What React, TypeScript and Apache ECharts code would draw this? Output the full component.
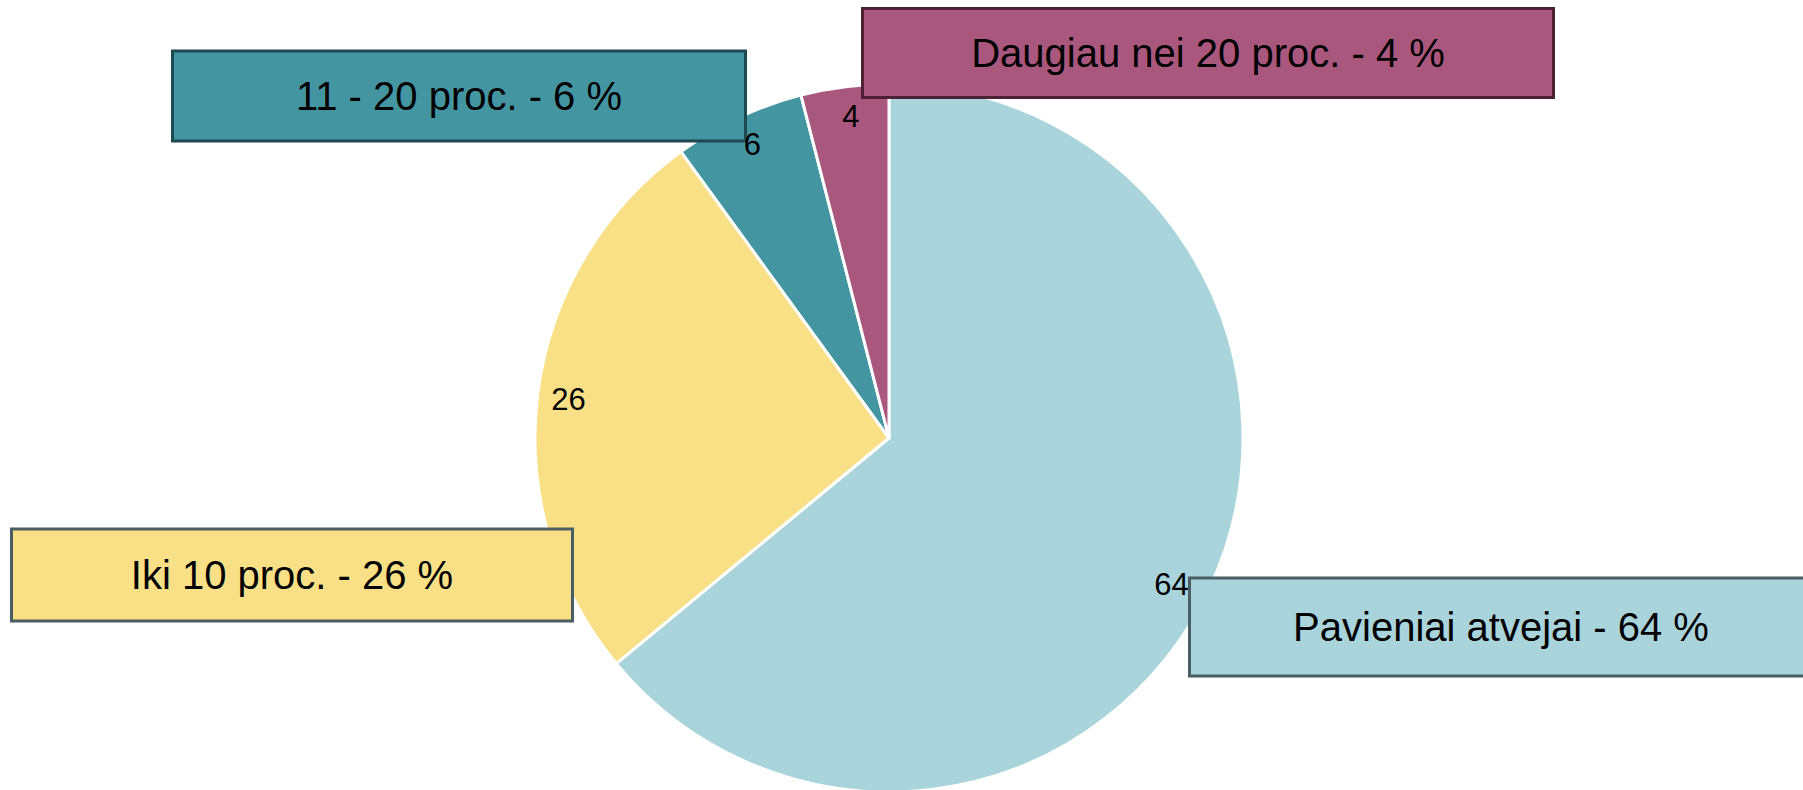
import React, { useEffect, useRef } from "react";
import * as echarts from "echarts";

const categories = ["Pavieniai atvejai", "Iki 10 proc.", "11 - 20 proc.", "Daugiau nei 20 proc."];
const values = [64, 26, 6, 4];
const sliceColors = ["#AAD4DB", "#F9E087", "#4495A2", "#AA577E"];
const boxBorderColors = ["#4A5E63", "#4A5E63", "#1E4A52", "#4E2036"];
// callout box layout: centre x, centre y, width, height (pixels)
const boxLayout = [
  [1501, 627, 620, 95],
  [292, 575, 558, 89],
  [459, 96, 570, 87],
  [1208, 53, 688, 86],
];
// small tweak of the in-slice value label positions
const valueLabelOffsets = [
  [-8, 10],
  [-2, 2],
  [0, -3],
  [2, -3],
];

export default function App() {
  const ref = useRef<HTMLDivElement>(null);
  useEffect(() => {
    const chart = echarts.init(ref.current!, null, { renderer: "svg" });
    const center = [889, 438];
    const radius = 354;
    chart.setOption({
      animation: false,
      backgroundColor: "#ffffff",
      series: [
        {
          type: "pie",
          center,
          radius: [0, radius],
          startAngle: 90,
          clockwise: true,
          avoidLabelOverlap: false,
          silent: true,
          itemStyle: { borderColor: "#ffffff", borderWidth: 3 },
          labelLine: { show: false },
          label: {
            show: true,
            position: "outside",
            formatter: "{b} - {c} %",
            fontFamily: "'Liberation Sans', Arial, sans-serif",
            fontSize: 40,
            color: "#000000",
          },
          labelLayout: (params: any) => {
            const b = boxLayout[params.dataIndex];
            return { x: b[0], y: b[1], align: "center", verticalAlign: "middle" };
          },
          data: categories.map((name, i) => ({
            name,
            value: values[i],
            itemStyle: { color: sliceColors[i] },
            label: {
              backgroundColor: sliceColors[i],
              borderColor: boxBorderColors[i],
              borderWidth: 3,
              width: boxLayout[i][2],
              lineHeight: boxLayout[i][3] - 24,
              padding: [0, 0, 24, 0],
              align: "center",
            },
          })),
        },
        {
          type: "pie",
          center,
          radius: [294, 342],
          startAngle: 90,
          clockwise: true,
          silent: true,
          itemStyle: { color: "rgba(0,0,0,0)", borderWidth: 0 },
          labelLine: { show: false },
          label: {
            show: true,
            position: "inside",
            formatter: "{c}",
            fontFamily: "'Liberation Sans', Arial, sans-serif",
            fontSize: 31,
            color: "#000000",
          },
          data: categories.map((name, i) => ({
            name,
            value: values[i],
            label: { offset: valueLabelOffsets[i] },
          })),
        },
      ],
    });
    return () => chart.dispose();
  }, []);
  return (
    <div
      ref={ref}
      style={{ position: "fixed", left: 0, top: 0, width: 1803, height: 790 }}
    />
  );
}
